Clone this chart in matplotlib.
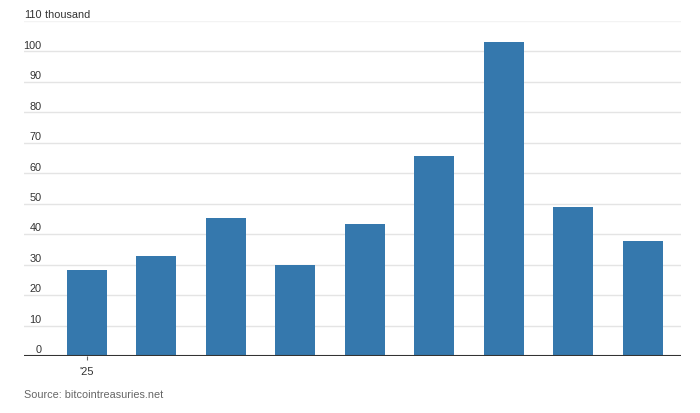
import matplotlib
matplotlib.use("Agg")
import matplotlib.pyplot as plt

plt.rcParams['font.family'] = ['Liberation Sans Narrow', 'Liberation Sans', 'DejaVu Sans']

# monthly purchases, 2025 (thousand)
months = ['Jan', 'Feb', 'Mar', 'Apr', 'May', 'Jun', 'Jul', 'Aug', 'Sep']
values = [28.2, 32.8, 45.3, 29.9, 43.3, 65.7, 103.1, 48.9, 37.8]
yticks = [0, 10, 20, 30, 40, 50, 60, 70, 80, 90, 100, 110]
xtick_labels = ["'25"]
source = "Source: bitcointreasuries.net"

fig = plt.figure(figsize=(7, 4.13), dpi=100)
ax = fig.add_axes([24 / 700, 1 - 356 / 413, 657 / 700, (356 - 21) / 413])

x = list(range(len(months)))
ax.bar(x, values, width=0.575, color='#3578ad', zorder=3)

ax.set_xlim(-0.906, 8.547)
ax.set_ylim(0, 110)

for t in yticks[1:]:
    ax.axhline(t, color='#f3f3f3' if t == 110 else '#e4e4e4', lw=1, zorder=1)
ax.axhline(0, color='#333333', lw=1.5, zorder=4)

for s in ax.spines.values():
    s.set_visible(False)
ax.set_yticks([])
ax.set_xticks([0])
ax.set_xticklabels(xtick_labels, fontsize=8, color='#333333')
ax.tick_params(axis='x', length=3, width=0.8, color='#666666', pad=5)

# y labels sit just above the gridlines, right aligned
for t in yticks:
    ax.annotate(str(t), xy=(0, t), xycoords=('axes fraction', 'data'),
                xytext=(12.8, 0.5), textcoords='offset points', ha='right', va='bottom',
                fontsize=7.8, color='#333333')
ax.annotate(' thousand', xy=(0, 110), xycoords=('axes fraction', 'data'),
            xytext=(12.8, 0.5), textcoords='offset points', ha='left', va='bottom',
            fontsize=7.8, color='#333333')

fig.text(24 / 700, 1 - 395 / 413, source, fontsize=7.8, color='#666666', va='center')

fig.savefig('out.png', dpi=100)
